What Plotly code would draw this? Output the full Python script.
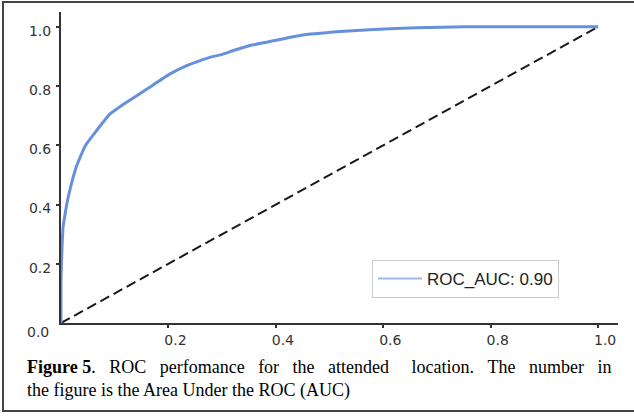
import plotly.graph_objects as go

# ROC curve points
fpr = [0.0, 0.0, 0.002, 0.004, 0.007, 0.010, 0.018, 0.029, 0.045, 0.066, 0.091,
       0.122, 0.160, 0.203, 0.234, 0.259, 0.277, 0.300, 0.321, 0.352, 0.383,
       0.445, 0.520, 0.582, 0.662, 0.755, 0.850, 1.0]
tpr = [0.0, 0.15, 0.26, 0.326, 0.36, 0.394, 0.46, 0.530, 0.598, 0.649, 0.705,
       0.745, 0.790, 0.841, 0.869, 0.886, 0.897, 0.907, 0.920, 0.937, 0.948,
       0.971, 0.984, 0.991, 0.997, 1.0, 1.0, 1.0]
chance = [0.0, 1.0]
legend_label = "ROC_AUC: 0.90"
tick_vals = [0.2, 0.4, 0.6, 0.8, 1.0]
tick_text = ["0.2", "0.4", "0.6", "0.8", "1.0"]


def gap(n):
    # justified word spacing: one normal space plus non-breaking spaces
    return " " + "\u00a0" * (n - 1)


caption_line1 = ("<b>Figure 5</b>." + gap(3) + "ROC" + gap(3) + "perfomance" + gap(3) + "for"
                 + gap(3) + "the" + gap(3) + "attended" + gap(5) + "location." + gap(3) + "The"
                 + gap(3) + "number" + gap(3) + "in")
caption_line2 = "the figure is the Area Under the ROC (AUC)"

W, H = 634, 416
L, R, T, B = 61, 16, 12, 93
pw, ph = W - L - R, H - T - B


def px_x(x):
    return (x - L) / pw


def px_y(y):
    return (H - B - y) / ph


fig = go.Figure()
fig.add_trace(go.Scatter(x=chance, y=chance, mode="lines",
                         line=dict(color="#1a1a1a", width=2, dash="10px,5px"),
                         showlegend=False, hoverinfo="skip"))
fig.add_trace(go.Scatter(x=fpr, y=tpr, mode="lines",
                         line=dict(color="#6690dc", width=3, shape="spline", smoothing=0.4),
                         showlegend=False))
fig.add_trace(go.Scatter(x=[None], y=[None], mode="lines", name=legend_label,
                         line=dict(color="#9db6e6", width=2), showlegend=True))

axis_common = dict(showgrid=False, zeroline=False, showline=True, linecolor="#333333",
                   linewidth=2, ticks="outside", ticklen=3, tickwidth=1.5,
                   tickcolor="#333333", tickfont=dict(family="DejaVu Sans", size=14, color="#333333"),
                   tickvals=tick_vals, ticktext=tick_text)

fig.update_xaxes(range=[0, 1.037], ticklabelshift=7, **axis_common)
fig.update_yaxes(range=[0, 1.05], ticklabelshift=4, ticklabelstandoff=2, **axis_common)

fig.add_annotation(text="0.0", xref="paper", yref="paper", x=px_x(38), y=px_y(332),
                   xanchor="center", yanchor="middle", showarrow=False,
                   font=dict(family="DejaVu Sans", size=14, color="#333333"))
cap_font = dict(family="Liberation Serif", size=18, color="#000000")
fig.add_annotation(text=caption_line1 + "<br>" + caption_line2, xref="paper", yref="paper",
                   x=px_x(25), y=px_y(355), xanchor="left", yanchor="top", align="left",
                   showarrow=False, font=cap_font)

fig.add_shape(type="rect", xref="paper", yref="paper",
              x0=px_x(3), x1=px_x(640), y0=px_y(411), y1=px_y(2),
              line=dict(color="#444444", width=2), layer="below")

fig.update_layout(
    width=W, height=H,
    margin=dict(l=L, r=R, t=T, b=B),
    paper_bgcolor="white", plot_bgcolor="white",
    legend=dict(x=px_x(372), y=px_y(260), xanchor="left", yanchor="top",
                bgcolor="white", bordercolor="#cccccc", borderwidth=1, itemwidth=44,
                font=dict(family="Liberation Sans", size=17, color="#222222")),
)

fig.write_html("out.html")
